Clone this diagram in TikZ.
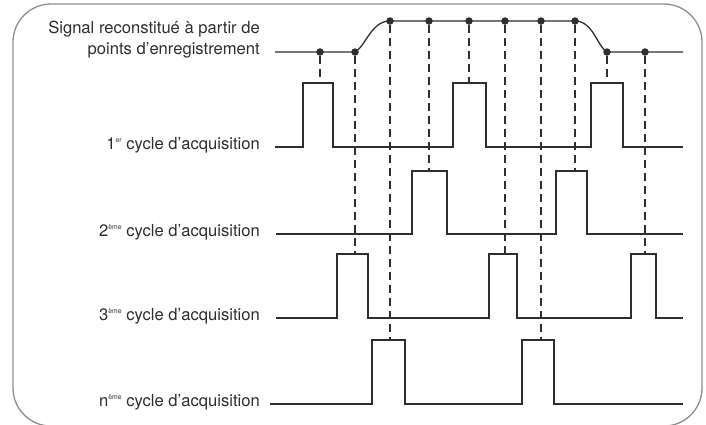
\documentclass[tikz,border=0pt]{standalone}
\usepackage{fontspec}
\setmainfont{TeX Gyre Heros}
\definecolor{trait}{HTML}{2E2E2E}
\definecolor{cadre}{HTML}{8E8E8E}
\newcommand{\exposant}[1]{\raisebox{0.85ex}{\fontsize{6.8}{7}\selectfont #1}}

\begin{document}
\begin{tikzpicture}[x=1pt, y=-1pt,
    signal/.style={draw=trait, line width=1.3pt},
    echant/.style={circle, fill=trait, inner sep=0pt, minimum size=7.5pt},
    repere/.style={draw=trait, line width=1.1pt, dash pattern=on 8pt off 5pt},
    legende/.style={anchor=mid east, inner sep=0pt, text=trait,
      font=\fontsize{16.6}{21}\selectfont}]
      \useasboundingbox (0,0) rectangle (706,424);
      \clip (0,0) rectangle (706,424);
      \draw[cadre, line width=1.3pt, rounded corners=38pt] (13,4) rectangle (702,426);

      % textes
      \node[legende] (titre1) at (260,31) {Signal reconstitué à partir de};
      \node[legende] (titre2) at (260,52) {points d’enregistrement};
      \node[legende] (cycle1) at (260,147) {1\exposant{er} cycle d’acquisition};
      \node[legende] (cycle2) at (260,234) {2\exposant{ème} cycle d’acquisition};
      \node[legende] (cycle3) at (260,318) {3\exposant{ème} cycle d’acquisition};
      \node[legende] (cyclen) at (260,404) {n\exposant{ème} cycle d’acquisition};

      % points d'enregistrement
      \node[echant] (p1) at (320,52) {};
      \node[echant] (p2) at (355,52) {};
      \node[echant] (p3) at (390,21) {};
      \node[echant] (p4) at (429,21) {};
      \node[echant] (p5) at (469,21) {};
      \node[echant] (p6) at (505,21) {};
      \node[echant] (p7) at (541,21) {};
      \node[echant] (p8) at (575,21) {};
      \node[echant] (p9) at (607,52) {};
      \node[echant] (p10) at (645,52) {};

      % hauts des impulsions
      \coordinate (h1) at (0,83);
      \coordinate (h2) at (0,171);
      \coordinate (h3) at (0,254);
      \coordinate (hn) at (0,340);

      \draw[repere] (p1) -- (p1 |- h1);
      \draw[repere] (p5) -- (p5 |- h1);
      \draw[repere] (p9) -- (p9 |- h1);
      \draw[repere] (p4) -- (p4 |- h2);
      \draw[repere] (p8) -- (p8 |- h2);
      \draw[repere] (p2) -- (p2 |- h3);
      \draw[repere] (p6) -- (p6 |- h3);
      \draw[repere] (p10) -- (p10 |- h3);
      \draw[repere] (p3) -- (p3 |- hn);
      \draw[repere] (p7) -- (p7 |- hn);

      % signal reconstitue
      \draw[signal] (275,52) -- (p1.center) -- (p2.center)
        .. controls (366,46) and (371,21) .. (p3.center) -- (p4.center)
        -- (p5.center) -- (p6.center) -- (p7.center) -- (p8.center)
        .. controls (593,21) and (597,46) .. (p9.center) -- (p10.center) -- (683,52);

      % cycles d'acquisition
      \draw[signal] (275,147) -| (303,83) -| (333,147) -| (453,83) -| (486,147)
        -| (591,83) -| (623,147) -- (683,147);
      \draw[signal] (276,234) -| (412,171) -| (447,234) -| (556,171) -| (587,234)
        -- (683,234);
      \draw[signal] (276,318) -| (337,254) -| (368,318) -| (489,254) -| (517,318)
        -| (631,254) -| (656,318) -- (683,318);
      \draw[signal] (270,404) -| (372,340) -| (405,404) -| (522,340) -| (554,404)
        -- (683,404);
    \end{tikzpicture}
\end{document}
